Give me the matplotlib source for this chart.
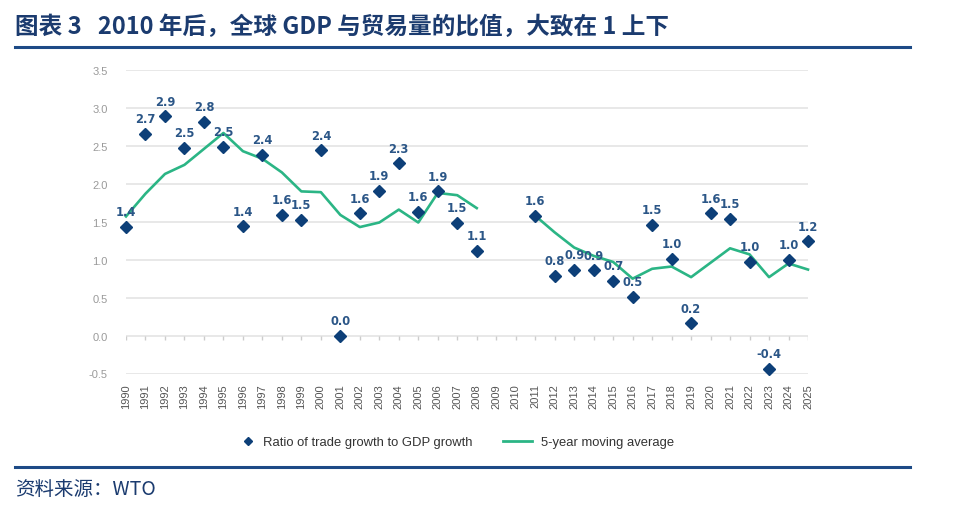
import numpy as np
import matplotlib
matplotlib.use("Agg")
import matplotlib.pyplot as plt
from matplotlib.lines import Line2D

plt.rcParams["font.family"] = ["Liberation Sans", "DejaVu Sans"]

# --- data ---
years = list(range(1990, 2026))
ratio = [1.43, 2.66, 2.89, 2.47, 2.82, 2.49, 1.44, 2.38, 1.59, 1.52,
         2.44, 0.00, 1.61, 1.91, 2.27, 1.63, 1.90, 1.48, 1.12, np.nan,
         np.nan, 1.58, 0.79, 0.87, 0.86, 0.72, 0.51, 1.46, 1.01, 0.16,
         1.61, 1.54, 0.97, -0.44, 1.00, 1.24]
moving_avg = [1.57, 1.87, 2.13, 2.25, 2.46, 2.67, 2.43, 2.33, 2.15, 1.90,
              1.89, 1.59, 1.43, 1.49, 1.66, 1.49, 1.88, 1.85, 1.68, np.nan,
              np.nan, 1.58, 1.36, 1.16, 1.05, 0.97, 0.75, 0.88, 0.91, 0.77,
              0.96, 1.15, 1.07, 0.77, 0.95, 0.87]
yticks = [-0.5, 0.0, 0.5, 1.0, 1.5, 2.0, 2.5, 3.0, 3.5]

title = "图表 3   2010 年后，全球 GDP 与贸易量的比值，大致在 1 上下"
source = "资料来源：WTO"
label_ratio = "Ratio of trade growth to GDP growth"
label_avg = "5-year moving average"

navy = "#0d3f78"
label_col = "#2b5687"
teal = "#2bb585"
rule_col = "#1d4a86"

W, H = 960, 510
fig = plt.figure(figsize=(W / 100, H / 100), dpi=100)
ax = fig.add_axes([126 / W, 1 - 374.5 / H, 682 / W, (374.5 - 71) / H])

# moving average line + scatter
ax.plot(years, moving_avg, color=teal, lw=1.9, zorder=2, clip_on=False)
ax.plot(years, ratio, ls="none", marker="D", ms=6.5, color=navy,
        zorder=3, clip_on=False)

for x, v in zip(years, ratio):
    if np.isnan(v):
        continue
    ax.annotate(f"{v:.1f}", (x, v), xytext=(0, 11), textcoords="offset points",
                ha="center", va="center", fontsize=8.3, fontweight="bold",
                color=label_col, family="DejaVu Sans", zorder=4,
                annotation_clip=False)

# small ticks hanging from the zero line
ax.vlines(years, -0.06, 0, color="#cccccc", lw=1, zorder=1)

ax.set_xlim(1990, 2025)
ax.set_ylim(-0.5, 3.5)
ax.set_yticks(yticks)
ax.set_yticklabels([f"{t:.1f}" for t in yticks])
ax.set_xticks(years)
ax.set_xticklabels([str(y) for y in years], rotation=90)
ax.tick_params(axis="x", length=0, pad=7, labelsize=8, labelcolor="#555555")
ax.tick_params(axis="y", length=0, pad=13, labelsize=8, labelcolor="#9a9a9a")
ax.yaxis.grid(True, color="#e2e2e2", lw=1.1)
ax.set_axisbelow(True)
for s in ax.spines.values():
    s.set_visible(False)

# legend: two pieces so the marker sits close to its text
leg_kw = dict(loc="center left", frameon=False, fontsize=9.4, borderpad=0,
              borderaxespad=0, handletextpad=0.7, labelcolor="#333333")
fig.legend([Line2D([], [], ls="none", marker="D", ms=4.5, color=navy)],
           [label_ratio], bbox_to_anchor=(243 / W, 1 - 443 / H),
           handlelength=0.8, **leg_kw)
fig.legend([Line2D([], [], color=teal, lw=2)], [label_avg],
           bbox_to_anchor=(503 / W, 1 - 443 / H), handlelength=2.2, **leg_kw)

# title, rules, source
fig.text(15 / W, 1 - 27 / H, title, fontsize=17, fontweight="bold",
         color="#1b3b6f", va="center", ha="left",
         family=["Noto Sans CJK SC", "DejaVu Sans"])
fig.add_artist(Line2D([15 / W, 910 / W], [1 - 48 / H] * 2, color=rule_col, lw=2.2))
fig.add_artist(Line2D([15 / W, 910 / W], [1 - 468 / H] * 2, color=rule_col, lw=2.2))
fig.text(15 / W, 1 - 490 / H, source, fontsize=14, style="italic",
         color="#1b3b6f", va="center", ha="left",
         family=["Noto Sans CJK SC", "DejaVu Sans"])

fig.savefig("out.png", dpi=100, facecolor="white")
